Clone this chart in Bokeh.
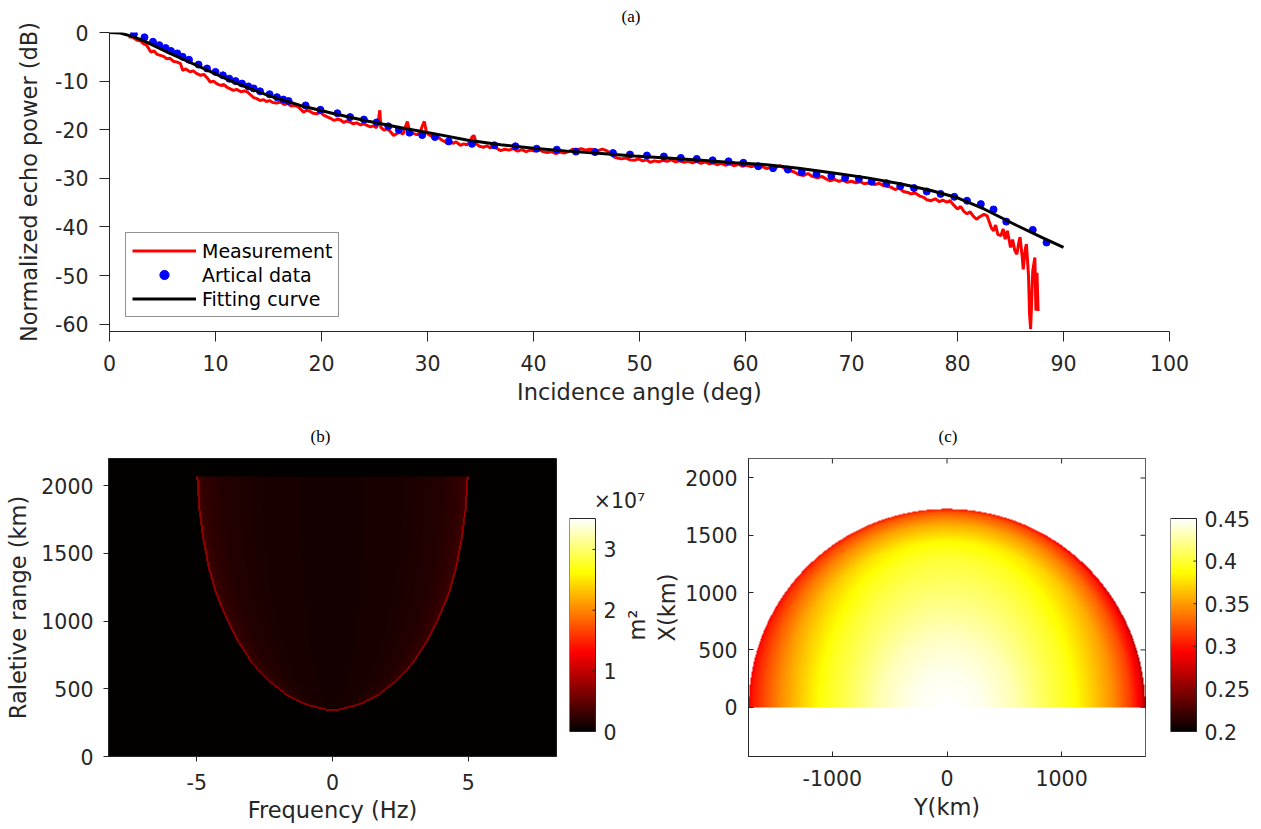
import numpy as np
from bokeh.plotting import figure
from bokeh.layouts import column, row
from bokeh.models import Range1d, LinearColorMapper, FixedTicker, Legend, LegendItem
from bokeh.core.properties import value
from bokeh.embed import file_html
from bokeh.resources import INLINE

AX = "#262626"
FONT = "DejaVu Sans"
TICK_FS = "20.5px"
LAB_FS = "22.5px"

# ---------------- (a) data ----------------
meas_angle = [1.8, 2.2, 2.6, 2.9, 3.2, 3.5, 3.9, 4.2, 4.5, 4.8, 5.1, 5.4, 5.7, 6.0, 6.4, 6.7, 6.9, 7.2, 7.6, 7.9,
              8.2, 8.6, 8.9, 9.2, 9.5, 9.8, 10.1, 10.5, 10.8, 11.1, 11.4, 11.7, 12.0, 12.4, 12.7, 13.0, 13.3, 13.6, 13.9, 14.2,
              14.5, 14.8, 15.1, 15.4, 15.8, 16.1, 16.5, 16.8, 17.1, 17.4, 17.8, 18.1, 18.3, 18.6, 18.9, 19.2, 19.6, 19.9, 20.2, 20.5,
              20.8, 21.2, 21.5, 21.8, 22.1, 22.4, 22.7, 23.0, 23.3, 23.7, 24.0, 24.3, 24.6, 24.9, 25.2, 25.4, 25.5, 25.6, 25.9, 26.2,
              26.5, 26.8, 27.1, 27.4, 27.7, 27.9, 28.1, 28.3, 28.5, 28.7, 29.0, 29.3, 29.5, 29.7, 29.9, 30.1, 30.3, 30.6, 30.9, 31.2,
              31.5, 31.8, 32.1, 32.4, 32.7, 33.1, 33.4, 33.7, 34.0, 34.2, 34.4, 34.6, 34.9, 35.3, 35.6, 35.9, 36.2, 36.6, 36.9, 37.3,
              37.7, 38.1, 38.5, 38.9, 39.3, 39.7, 40.1, 40.5, 40.9, 41.3, 41.7, 42.1, 42.5, 42.9, 43.3, 43.7, 44.1, 44.5, 44.9, 45.3,
              45.7, 46.1, 46.5, 46.9, 47.3, 47.6, 47.9, 48.3, 48.7, 49.1, 49.5, 49.9, 50.3, 50.7, 51.0, 51.4, 51.8, 52.2, 52.6, 53.0,
              53.4, 53.8, 54.2, 54.6, 55.0, 55.4, 55.8, 56.2, 56.6, 57.0, 57.3, 57.7, 58.1, 58.5, 58.9, 59.3, 59.7, 60.1, 60.5, 60.9,
              61.2, 61.6, 62.0, 62.4, 62.8, 63.3, 63.7, 64.2, 64.6, 65.0, 65.5, 65.9, 66.3, 66.8, 67.2, 67.6, 68.0, 68.4, 68.8, 69.2,
              69.6, 70.0, 70.4, 70.8, 71.2, 71.8, 72.2, 72.6, 73.0, 73.4, 73.7, 74.1, 74.5, 74.9, 75.3, 75.6, 76.0, 76.4, 76.8, 77.1,
              77.5, 77.9, 78.3, 78.6, 79.0, 79.3, 79.6, 80.0, 80.3, 80.6, 80.9, 81.2, 81.5, 81.8, 82.1, 82.5, 82.8, 83.0, 83.2, 83.4,
              83.6, 83.8, 84.1, 84.3, 84.5, 84.7, 84.9, 85.0, 85.2, 85.4, 85.6, 85.8, 85.9, 86.1, 86.2, 86.4, 86.5, 86.7, 86.8, 86.9,
              87.0, 87.1, 87.3, 87.4, 87.5, 87.6]
meas_db = [-0.9, -1.0, -1.6, -1.7, -2.3, -2.6, -4.0, -3.8, -4.5, -4.7, -4.9, -5.4, -5.3, -5.9, -6.1, -6.4, -7.8, -7.5, -8.1, -7.9,
           -8.4, -8.8, -8.6, -9.3, -10.2, -10.0, -10.5, -10.9, -10.7, -11.3, -11.6, -11.9, -11.7, -12.2, -12.0, -12.2, -12.8, -13.4, -13.6, -14.0,
           -13.8, -14.2, -14.0, -14.4, -14.5, -14.3, -14.8, -14.6, -15.1, -15.0, -15.3, -15.9, -16.4, -16.0, -16.2, -16.6, -16.7, -16.4, -17.0, -17.3,
           -17.6, -18.1, -17.8, -18.0, -18.5, -18.2, -18.4, -18.8, -18.6, -19.0, -18.8, -19.1, -19.4, -19.2, -19.6, -17.5, -16.0, -19.5, -20.1, -19.8,
           -20.4, -21.2, -20.8, -20.5, -20.9, -19.5, -18.3, -20.2, -20.6, -20.8, -21.0, -20.6, -19.3, -18.3, -20.5, -21.0, -21.2, -21.6, -21.3, -21.9,
           -22.3, -22.6, -22.3, -22.8, -22.5, -23.2, -22.9, -23.1, -22.6, -21.5, -21.2, -22.9, -23.4, -23.6, -23.3, -23.7, -23.5, -23.9, -24.3, -24.0,
           -24.2, -23.9, -24.4, -24.1, -24.5, -24.2, -24.4, -24.0, -24.5, -24.7, -24.5, -24.9, -24.6, -24.8, -24.5, -24.0, -24.1, -23.9, -24.2, -24.0,
           -24.1, -24.3, -24.0, -24.3, -24.9, -25.6, -25.8, -26.0, -25.8, -26.2, -26.3, -26.0, -26.4, -26.2, -26.7, -26.4, -26.6, -26.3, -26.5, -26.2,
           -26.6, -26.4, -26.7, -26.5, -26.8, -26.5, -26.9, -26.6, -27.0, -26.8, -27.2, -26.9, -27.3, -27.0, -27.4, -27.1, -27.5, -27.3, -27.6, -27.4,
           -27.9, -27.6, -28.0, -27.7, -27.8, -27.4, -28.0, -28.4, -28.7, -29.2, -29.4, -29.0, -29.6, -29.9, -29.6, -30.1, -30.5, -30.2, -30.6, -30.4,
           -30.8, -30.6, -30.9, -30.7, -31.1, -30.9, -31.3, -31.0, -31.5, -31.7, -31.8, -32.3, -32.0, -32.7, -32.9, -33.2, -33.0, -33.6, -33.9, -34.4,
           -34.6, -34.2, -34.8, -34.5, -34.9, -34.6, -35.4, -36.3, -35.8, -36.8, -37.3, -36.9, -37.8, -38.4, -37.9, -37.4, -37.7, -39.0, -40.2, -40.8,
           -39.6, -41.5, -41.8, -40.4, -42.5, -40.8, -43.0, -44.2, -42.6, -44.8, -45.6, -43.0, -42.1, -46.0, -48.7, -44.5, -43.5, -50.0, -58.0, -61.0,
           -55.0, -49.0, -46.3, -57.2, -49.4, -57.3]

art_angle = [2.3, 3.3, 4.1, 4.7, 5.3, 5.8, 6.4, 6.9, 7.5, 8.4, 9.2, 10.0, 10.7, 11.3, 11.9, 12.5, 13.1, 13.6, 14.2, 15.1,
             15.8, 16.4, 16.9, 18.5, 19.9, 21.5, 22.7, 24.0, 25.2, 26.3, 27.3, 28.3, 29.5, 30.7, 32.0, 34.2, 36.3, 38.3, 40.3, 42.2,
             44.0, 45.8, 47.5, 49.1, 50.7, 52.3, 53.9, 55.4, 56.9, 58.4, 59.8, 61.2, 62.6, 64.0, 65.3, 66.7, 68.1, 69.4, 70.7, 71.9,
             73.3, 74.6, 75.9, 77.1, 78.4, 79.7, 80.9, 82.2, 83.4, 84.6, 87.1, 88.4]
art_db = [-0.35, -1.0, -1.9, -2.6, -3.2, -3.8, -4.3, -5.0, -5.6, -6.6, -7.4, -8.1, -8.8, -9.5, -10.0, -10.5, -11.1, -11.5, -12.1, -12.7,
          -13.3, -13.8, -14.1, -15.0, -15.9, -16.6, -17.4, -17.9, -18.5, -19.3, -20.0, -20.6, -21.1, -21.5, -22.4, -22.9, -23.2, -23.4, -23.9, -24.1,
          -24.5, -24.6, -24.8, -25.1, -25.3, -25.5, -25.8, -26.0, -26.3, -26.5, -26.8, -27.5, -27.9, -28.2, -28.7, -29.1, -29.5, -29.9, -30.1, -30.7,
          -31.0, -31.6, -32.0, -32.7, -33.2, -33.8, -34.6, -35.3, -36.4, -38.9, -40.6, -43.2]

fit_angle = [0, 1.0, 2.3, 3.5, 5.4, 8.6, 11.7, 14.9, 18.0, 21.2, 24.3, 27.5, 30.6, 33.7, 36.9, 40.0, 43.2, 46.4, 49.5, 52.6,
             55.8, 59.0, 62.0, 65.0, 68.3, 71.5, 74.6, 77.5, 80.0, 82.5, 85.6, 88.0, 90.0]
fit_db = [0, -0.1, -0.9, -2.0, -4.0, -7.1, -10.2, -12.9, -15.0, -16.7, -18.2, -19.6, -20.8, -22.1, -23.1, -23.8, -24.4, -24.9, -25.4, -25.8,
          -26.3, -26.8, -27.2, -27.9, -28.9, -29.9, -31.1, -32.5, -34.0, -36.3, -39.7, -42.2, -44.2]

a_xticks = [0, 10, 20, 30, 40, 50, 60, 70, 80, 90, 100]
a_yticks = [-60, -50, -40, -30, -20, -10, 0]

# ---------------- (b) data ----------------
b_edge_range = [339, 344, 381, 450, 561, 684, 856, 1028, 1201, 1397, 1619, 1840, 2069]   # km
b_edge_freq = [0.0, 0.28, 0.99, 1.69, 2.39, 2.96, 3.52, 3.94, 4.30, 4.58, 4.79, 4.93, 5.0]  # Hz
b_top_range = 2069
b_interior_pos = [0.0, 0.5, 0.8, 0.95, 1.0]           # fraction of edge frequency
b_interior_val = [0.10, 0.12, 0.17, 0.25, 0.35]       # x1e7 m^2
b_edge_val = 1.25                                     # x1e7 m^2
b_clim = [0.0, 3.51]
b_xticks = [-5, 0, 5]
b_yticks = [0, 500, 1000, 1500, 2000]
b_cticks = [0, 1, 2, 3]
b_clabels = ["0", "1", "2", "3"]

# ---------------- (c) data ----------------
c_radius = 1730
c_r = [0, 300, 600, 900, 1100, 1300, 1450, 1600, 1700, 1730]
c_val_right = [0.45, 0.445, 0.43, 0.405, 0.39, 0.365, 0.345, 0.315, 0.285, 0.26]
c_val_up = [0.45, 0.445, 0.435, 0.42, 0.41, 0.40, 0.385, 0.355, 0.325, 0.30]
c_val_left = [0.45, 0.445, 0.43, 0.405, 0.39, 0.365, 0.345, 0.32, 0.30, 0.29]
c_clim = [0.2, 0.45]
c_xticks = [-1000, 0, 1000]
c_yticks = [0, 500, 1000, 1500, 2000]
c_cticks = [0.2, 0.25, 0.3, 0.35, 0.4, 0.45]
c_clabels = ["0.2", "0.25", "0.3", "0.35", "0.4", "0.45"]


def hot(n=256):
    n1 = int(3 * n / 8)
    n2 = n1
    n3 = n - n1 - n2
    r = np.concatenate([np.arange(1, n1 + 1) / n1, np.ones(n - n1)])
    g = np.concatenate([np.zeros(n1), np.arange(1, n2 + 1) / n2, np.ones(n3)])
    b = np.concatenate([np.zeros(n1 + n2), np.arange(1, n3 + 1) / n3])
    return ["#%02x%02x%02x" % (int(round(255 * a)), int(round(255 * bb)), int(round(255 * c)))
            for a, bb, c in zip(r, g, b)]


HOT = hot()


def style_axis(ax, ticks, tick_in=0, tick_out=10, standoff=8, label_standoff=10):
    ax.ticker = FixedTicker(ticks=ticks)
    ax.major_label_overrides = {t: str(t) for t in ticks}
    ax.axis_line_color = AX
    ax.major_tick_line_color = AX
    ax.minor_tick_line_color = None
    ax.major_tick_in = tick_in
    ax.major_tick_out = tick_out
    ax.major_label_text_font = FONT
    ax.major_label_text_font_size = TICK_FS
    ax.major_label_text_color = AX
    ax.major_label_standoff = standoff
    ax.axis_label_text_font = FONT
    ax.axis_label_text_font_size = LAB_FS
    ax.axis_label_text_font_style = "normal"
    ax.axis_label_text_color = AX
    ax.axis_label_standoff = label_standoff


def style_title(p, text, standoff, offset, valign="bottom"):
    p.title.text = text
    p.title.align = "left"
    p.title.vertical_align = valign
    p.title.text_font = "Liberation Serif"
    p.title.text_font_size = "17px"
    p.title.text_font_style = "normal"
    p.title.text_color = "black"
    p.title.standoff = standoff
    p.title.offset = offset


ROW_H = 420
TOP_B = 50
BOT_B = 72
FRAME_H = ROW_H - TOP_B - BOT_B   # 298
BAR_TOP = 60                       # bar top below frame top (px)
BAR_H = 213


def colorbar_fig(width, left_b, vlim, ticks, labels, mapper):
    frame_w = width - left_b
    vmin, vmax = vlim
    ppu = BAR_H / (vmax - vmin)
    y0 = vmin - (FRAME_H - BAR_TOP - BAR_H) / ppu
    y1 = vmax + BAR_TOP / ppu
    p = figure(width=width, height=ROW_H, x_range=Range1d(0, frame_w), y_range=Range1d(y0, y1),
               output_backend="svg", toolbar_location=None, x_axis_location=None, y_axis_location=None,
               min_border_left=left_b, min_border_right=0, min_border_top=TOP_B, min_border_bottom=BOT_B)
    p.grid.visible = False
    p.outline_line_color = None
    grad = np.linspace(vmin, vmax, 256).reshape(256, 1)
    p.image(image=[grad], x=0, y=vmin, dw=26, dh=vmax - vmin, color_mapper=mapper)
    p.quad(left=0, right=26, bottom=vmin, top=vmax, fill_color=None, line_color=AX, line_width=1)
    p.segment(x0=[23] * len(ticks), y0=ticks, x1=[26] * len(ticks), y1=ticks, line_color=AX, line_width=1)
    p.text(x=[34] * len(ticks), y=ticks, text=labels, text_font=value(FONT), text_font_size=value(TICK_FS),
           text_color=AX, text_align="left", text_baseline="middle")
    return p, ppu


# ================= (a) =================
pa = figure(width=1200, height=408, x_range=Range1d(0, 100), y_range=Range1d(-61.5, 0),
            output_backend="svg", toolbar_location=None,
            min_border_left=109, min_border_right=31, min_border_top=32, min_border_bottom=77)
pa.outline_line_color = None
pa.grid.visible = False
r_meas = pa.line(meas_angle, meas_db, line_color="#ff0000", line_width=3)
r_art = pa.scatter(art_angle, art_db, size=7, fill_color="#0000ff", line_color="#0000ff")
r_fit = pa.line(fit_angle, fit_db, line_color="black", line_width=3)
pa.xaxis.axis_label = "Incidence angle (deg)"
pa.yaxis.axis_label = "Normalized echo power (dB)"
style_axis(pa.xaxis[0], a_xticks, tick_out=10, standoff=13, label_standoff=5)
style_axis(pa.yaxis[0], a_yticks, tick_out=10, standoff=11, label_standoff=10)
legend = Legend(items=[LegendItem(label="Measurement", renderers=[r_meas]),
                       LegendItem(label="Artical data", renderers=[r_art]),
                       LegendItem(label="Fitting curve", renderers=[r_fit])],
                location=(16, 14), label_text_font=FONT, label_text_font_size="19px",
                label_text_color="black", border_line_color=AX, border_line_width=1,
                background_fill_color="white", background_fill_alpha=1.0,
                padding=6, spacing=1, margin=0, glyph_width=64, glyph_height=23,
                label_height=23, label_standoff=6)
pa.add_layout(legend)
style_title(pa, "(a)", 10, 512, valign="top")

# ================= (b) =================
b_x0, b_x1 = -8.25, 8.25
b_y0, b_y1 = 0, 2200
pb = figure(width=561, height=ROW_H, x_range=Range1d(b_x0, b_x1), y_range=Range1d(b_y0, b_y1),
            output_backend="svg", toolbar_location=None,
            min_border_left=108, min_border_right=5, min_border_top=TOP_B, min_border_bottom=BOT_B)
pb.grid.visible = False
pb.outline_line_color = AX
nxb, nyb = 448, FRAME_H
xs = b_x0 + (np.arange(nxb) + 0.5) * (b_x1 - b_x0) / nxb
ys = b_y0 + (np.arange(nyb) + 0.5) * (b_y1 - b_y0) / nyb
XX, YY = np.meshgrid(xs, ys)
fb = np.interp(YY, b_edge_range, b_edge_freq)
inside = (YY >= b_edge_range[0]) & (YY <= b_top_range) & (np.abs(XX) <= fb)
frac = np.where(fb > 0, np.abs(XX) / np.maximum(fb, 1e-9), 0)
img_b = np.zeros((nyb, nxb))
img_b[inside] = np.interp(frac[inside], b_interior_pos, b_interior_val)
nl = np.roll(inside, 1, axis=1)
nr = np.roll(inside, -1, axis=1)
nd = np.roll(inside, 1, axis=0)
edge = inside & (~nl | ~nr | ~nd)
img_b[edge] = b_edge_val
map_b = LinearColorMapper(palette=HOT, low=b_clim[0], high=b_clim[1])
pb.image(image=[img_b], x=b_x0, y=b_y0, dw=b_x1 - b_x0, dh=b_y1 - b_y0, color_mapper=map_b)
pb.xaxis.axis_label = "Frequency (Hz)"
pb.yaxis.axis_label = "Raletive range (km)"
style_axis(pb.xaxis[0], b_xticks, tick_out=5, standoff=12, label_standoff=4)
style_axis(pb.yaxis[0], b_yticks, tick_out=5, standoff=10, label_standoff=7)
style_title(pb, "(b)", 25, 202)

# colorbar (b)
cbb, ppu_b = colorbar_fig(89, 8, b_clim, b_cticks, b_clabels, map_b)
cbb.text(x=[50], y=[b_clim[1] + 18 / ppu_b], text=["×10⁷"], text_font=value(FONT),
         text_font_size=value(TICK_FS), text_color=AX, text_align="center", text_baseline="middle")
cbb.text(x=[67], y=[(b_clim[0] + b_clim[1]) / 2], text=["m²"], angle=np.pi / 2, text_font=value(FONT),
         text_font_size=value(LAB_FS), text_color=AX, text_align="center", text_baseline="middle")

# ================= (c) =================
c_x0, c_x1 = -1732, 1732
c_y0, c_y1 = -430, 2170
C_FW = 397
pc = figure(width=510, height=ROW_H, x_range=Range1d(c_x0, c_x1), y_range=Range1d(c_y0, c_y1),
            output_backend="svg", toolbar_location=None,
            min_border_left=98, min_border_right=15, min_border_top=TOP_B, min_border_bottom=BOT_B)
pc.grid.visible = False
pc.outline_line_color = AX
nxc, nyc = C_FW, FRAME_H
xs = c_x0 + (np.arange(nxc) + 0.5) * (c_x1 - c_x0) / nxc
ys = c_y0 + (np.arange(nyc) + 0.5) * (c_y1 - c_y0) / nyc
XX, YY = np.meshgrid(xs, ys)
RR = np.hypot(XX, YY)
TH = np.arctan2(YY, XX)
vr = np.interp(RR, c_r, c_val_right)
vu = np.interp(RR, c_r, c_val_up)
vl = np.interp(RR, c_r, c_val_left)
c2 = np.cos(TH) ** 2
s2 = np.sin(TH) ** 2
val = np.where(XX >= 0, vr * c2 + vu * s2, vl * c2 + vu * s2)
img_c = np.where((YY >= 0) & (RR <= c_radius), val, np.nan)
map_c = LinearColorMapper(palette=HOT, low=c_clim[0], high=c_clim[1], nan_color="white")
pc.image(image=[img_c], x=c_x0, y=c_y0, dw=c_x1 - c_x0, dh=c_y1 - c_y0, color_mapper=map_c)
pc.xaxis.axis_label = "Y(km)"
pc.yaxis.axis_label = "X(km)"
style_axis(pc.xaxis[0], c_xticks, tick_in=5, tick_out=0, standoff=13, label_standoff=5)
style_axis(pc.yaxis[0], c_yticks, tick_in=5, tick_out=0, standoff=11, label_standoff=2)
dx = (c_x1 - c_x0) / C_FW
dy = (c_y1 - c_y0) / FRAME_H
pc.segment(x0=c_xticks, y0=[c_y1] * len(c_xticks), x1=c_xticks, y1=[c_y1 - 5 * dy] * len(c_xticks),
           line_color=AX, line_width=1)
pc.segment(x0=[c_x1] * len(c_yticks), y0=c_yticks, x1=[c_x1 - 5 * dx] * len(c_yticks), y1=c_yticks,
           line_color=AX, line_width=1)
style_title(pc, "(c)", 25, 190)

# colorbar (c)
cbc, ppu_c = colorbar_fig(94, 10, c_clim, c_cticks, c_clabels, map_c)

layout = column(pa, row(pb, cbb, pc, cbc))
open("out.html", "w").write(file_html(layout, INLINE))
